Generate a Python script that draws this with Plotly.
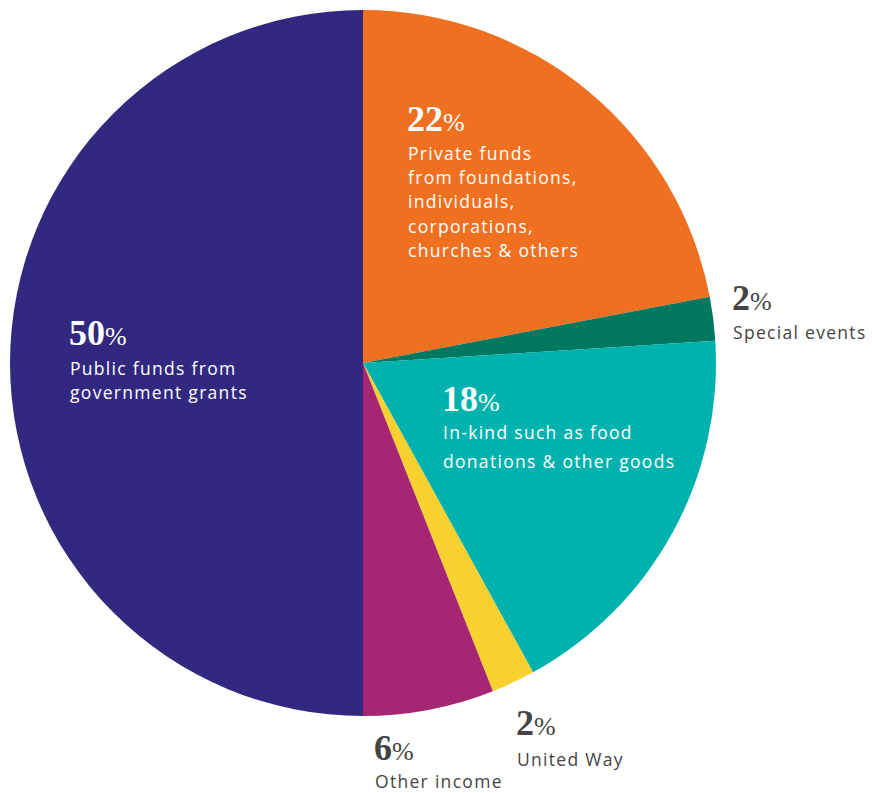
import plotly.graph_objects as go

W, H = 872, 793

categories = ["Private funds", "Special events", "In-kind", "United Way", "Other income", "Public funds"]
values = [22, 2, 18, 2, 6, 50]
colors = ["#F07022", "#00775F", "#00B2AE", "#F9D12E", "#A52673", "#32287F"]

pct_labels = ["22", "2", "18", "2", "6", "50"]
desc_lines = [
    ["Private funds", "from foundations,", "individuals,", "corporations,", "churches & others"],
    ["Special events"],
    ["In-kind such as food", "donations & other goods"],
    ["United Way"],
    ["Other income"],
    ["Public funds from", "government grants"],
]
text_colors = ["#FFFFFF", "#444444", "#FFFFFF", "#444444", "#444444", "#FFFFFF"]

# label placement (pixels): x, number center y, first desc line y, line spacing
placements = [
    (408, 119, 153, 24.2),
    (733, 298, 332, 24),
    (443, 399, 432, 28.5),
    (517, 723, 759, 24),
    (375, 748, 781, 24),
    (70, 333, 368, 24),
]

cx, cy, r = 363, 363, 353


def px(x):
    return x / W


def py(y):
    return 1 - y / H


fig = go.Figure(go.Pie(
    labels=categories,
    values=values,
    sort=False,
    direction="clockwise",
    rotation=0,
    marker=dict(colors=colors, line=dict(width=0)),
    textinfo="none",
    hoverinfo="none",
    showlegend=False,
    domain=dict(x=[px(cx - r), px(cx + r)], y=[py(cy + r), py(cy - r)]),
))

ann = []
for p, lines, tc, (x, ny, ly, sp) in zip(pct_labels, desc_lines, text_colors, placements):
    ann.append(dict(
        x=px(x - 3), y=py(ny), xref="paper", yref="paper",
        xanchor="left", yanchor="middle", showarrow=False,
        text=f"<b>{p}</b><span style='font-size:26px;font-weight:normal'>%</span>",
        font=dict(family="Liberation Serif", size=36, color=tc),
    ))
    for i, line in enumerate(lines):
        ann.append(dict(
            x=px(x - 2), y=py(ly + i * sp), xref="paper", yref="paper",
            xanchor="left", yanchor="middle", showarrow=False,
            text=f"<span style='letter-spacing:1.3px'>{line}</span>",
            font=dict(family="Open Sans", size=17.5, color=tc),
        ))

fig.update_layout(
    width=W, height=H,
    margin=dict(l=0, r=0, t=0, b=0),
    paper_bgcolor="white", plot_bgcolor="white",
    annotations=ann,
)

fig.write_html(
    "out.html",
    config={"displayModeBar": False},
    post_script="document.body.style.margin='0';document.documentElement.style.overflow='hidden';",
)
